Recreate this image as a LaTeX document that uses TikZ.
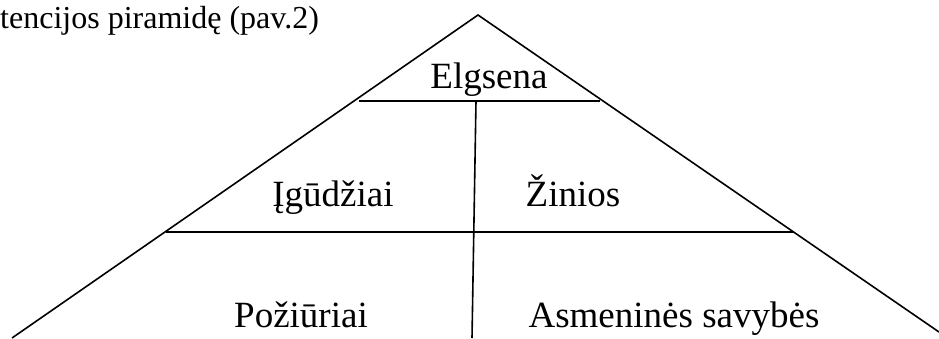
\documentclass[tikz,border=0pt]{standalone}
\usepackage{fontspec}
\setmainfont{Liberation Serif}
\begin{document}
\begin{tikzpicture}[x=1pt,y=-1pt,every node/.style={inner sep=0pt,anchor=base,text=black},
  lab/.style={font=\fontsize{37}{40}\selectfont},
  small/.style={font=\fontsize{32}{36}\selectfont},
  ln/.style={line width=1.6pt,black}]
\useasboundingbox (0,0) rectangle (939,338);
\coordinate (apex) at (478,15);
\coordinate (bl) at (12,338);
\coordinate (br) at (939,332);
\coordinate (tl) at (359,101);
\coordinate (tr) at (600,101);
\coordinate (ml) at (166,232);
\coordinate (mr) at (794,232);
\coordinate (vt) at (476,101);
\coordinate (vb) at (472,338);
\draw[ln] (bl) -- (apex) -- (br);
\draw[ln] (tl) -- (tr);
\draw[ln] (ml) -- (mr);
\draw[ln] (vt) -- (vb);
\node[small,anchor=base west] (t0) at (0,28) {tencijos piramidę (pav.2)};
\node[lab] (e) at (489,88) {Elgsena};
\node[lab] (i) at (333,206) {Įgūdžiai};
\node[lab] (z) at (573,206) {Žinios};
\node[lab] (p) at (301,327) {Požiūriai};
\node[lab] (a) at (674,327) {Asmeninės savybės};
\end{tikzpicture}
\end{document}
